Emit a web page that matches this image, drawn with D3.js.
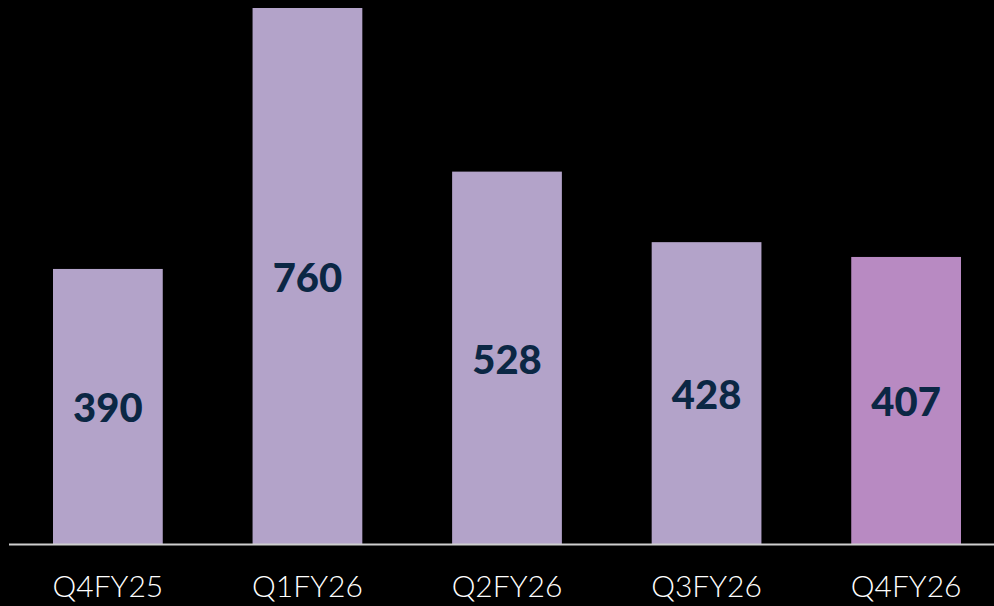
<!DOCTYPE html>
<html>
<head>
<meta charset="utf-8">
<script src="https://cdn.jsdelivr.net/npm/d3@7"></script>
<style>
  html, body { margin: 0; padding: 0; background: #000; }
  svg { display: block; }
</style>
</head>
<body>
<svg width="994" height="606"></svg>
<script>
const quarters = ["Q4FY25", "Q1FY26", "Q2FY26", "Q3FY26", "Q4FY26"]
const values = [390, 760, 528, 428, 407]
const barColors = ["#b3a3c9", "#b3a3c9", "#b3a3c9", "#b3a3c9", "#b88ac2"]

let svg = d3.select("svg")

let x = d3.scaleBand()
          .domain(quarters)
          .range([53, 961])
          .paddingInner(0.45)
          .paddingOuter(0)

let y = d3.scaleLinear()
          .domain([0, 760])
          .range([544, 8])

let data = quarters.map((q, i) => ({ q: q, v: values[i], c: barColors[i] }))

svg.selectAll("rect.bar")
   .data(data)
   .enter()
   .append("rect")
   .attr("class", "bar")
   .attr("x", d => x(d.q))
   .attr("y", d => y(d.v))
   .attr("width", x.bandwidth())
   .attr("height", d => y(0) - y(d.v))
   .attr("fill", d => d.c)

// value labels, centred in the bar
svg.selectAll("text.value")
   .data(data)
   .enter()
   .append("text")
   .attr("class", "value")
   .attr("x", d => x(d.q) + x.bandwidth() / 2)
   .attr("y", d => (y(d.v) + y(0)) / 2 + 1)
   .attr("text-anchor", "middle")
   .attr("dominant-baseline", "central")
   .attr("fill", "#0b2744")
   .style("font-family", "Lato, 'Open Sans', sans-serif")
   .style("font-weight", "900")
   .style("font-size", "40px")
   .text(d => d.v)

// baseline
svg.append("line")
   .attr("x1", 9)
   .attr("x2", 994)
   .attr("y1", y(0) + 0.5)
   .attr("y2", y(0) + 0.5)
   .attr("stroke", "#cfcfcf")
   .attr("stroke-width", 2)

svg.selectAll("text.cat")
   .data(quarters)
   .enter()
   .append("text")
   .attr("class", "cat")
   .attr("x", d => x(d) + x.bandwidth() / 2)
   .attr("y", 597)
   .attr("text-anchor", "middle")
   .attr("fill", "#ffffff")
   .style("font-family", "Lato, 'Open Sans', sans-serif")
   .style("font-weight", "300")
   .style("font-size", "30px")
   .text(d => d)
</script>
</body>
</html>
